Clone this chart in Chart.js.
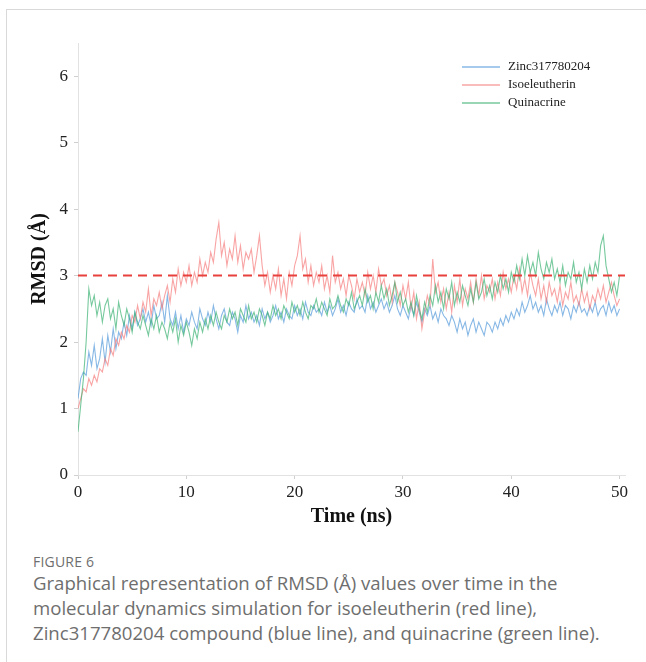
<!DOCTYPE html>
<html>
<head>
<meta charset="utf-8">
<script src="https://cdn.jsdelivr.net/npm/chart.js@4/dist/chart.umd.min.js"></script>
<style>
  html, body { margin: 0; padding: 0; background: #fff; }
  #page { position: relative; width: 646px; height: 662px; overflow: hidden; }
  #card { position: absolute; left: 6px; top: 9px; right: 0; bottom: 0;
          border-top: 1px solid #d9d9d9; border-left: 1px solid #d9d9d9; }
  #chart { position: absolute; left: 0; top: 0; }
  .cap { position: absolute; left: 33px; width: 610px; white-space: nowrap;
         font-family: "Open Sans", sans-serif; color: #6e6e6e; }
  #fig { top: 554px; font-size: 14px; line-height: 16px; letter-spacing: 0.2px; }
  #txt { top: 570px; font-size: 18.6px; line-height: 25px; }
</style>
</head>
<body>
<div id="page">
  <div id="card"></div>
  <canvas id="chart" width="646" height="540"></canvas>
  <div id="fig" class="cap">FIGURE 6</div>
  <div id="txt" class="cap">Graphical representation of RMSD (Å) values over time in the<br>molecular dynamics simulation for isoeleutherin (red line),<br>Zinc317780204 compound (blue line), and quinacrine (green line).</div>
</div>
<script>
  // sampled every 0.25 ns, 0 .. 50 ns
  let timeStepNs = 0.25;
  let seriesNames = ['Zinc317780204', 'Isoeleutherin', 'Quinacrine'];
  let thresholdRmsd = 3;
  let xTicks = [0, 10, 20, 30, 40, 50];
  let yTicks = [0, 1, 2, 3, 4, 5, 6];

  let zincRmsd = [
    1.15, 1.45, 1.55, 1.50, 1.85, 1.65, 1.95, 1.60, 1.75,
    2.05, 1.70, 2.10, 1.85, 2.20, 1.90, 2.15, 2.05,
    2.30, 2.10, 2.40, 2.20, 2.45, 2.25, 2.35, 2.50,
    2.30, 2.45, 2.25, 2.55, 2.35, 2.40, 2.60, 2.30,
    2.70, 2.35, 2.25, 2.45, 2.20, 2.40, 2.15, 2.35,
    2.25, 2.45, 2.30, 2.20, 2.50, 2.35, 2.25, 2.45,
    2.30, 2.55, 2.35, 2.20, 2.40, 2.50, 2.30, 2.25,
    2.45, 2.35, 2.15, 2.40, 2.30, 2.55, 2.35, 2.45,
    2.30, 2.40, 2.25, 2.50, 2.35, 2.45, 2.30, 2.40,
    2.55, 2.35, 2.45, 2.30, 2.50, 2.40, 2.35, 2.55,
    2.40, 2.50, 2.35, 2.60, 2.45, 2.40, 2.55, 2.45,
    2.50, 2.40, 2.60, 2.45, 2.55, 2.40, 2.50, 2.65,
    2.45, 2.55, 2.40, 2.60, 2.50, 2.45, 2.65, 2.50,
    2.55, 2.45, 2.70, 2.50, 2.60, 2.45, 2.55, 2.65,
    2.50, 2.60, 2.45, 2.55, 2.70, 2.50, 2.40, 2.55,
    2.45, 2.35, 2.55, 2.40, 2.60, 2.45, 2.30, 2.50,
    2.40, 2.55, 2.35, 2.45, 2.30, 2.50, 2.40, 2.35,
    2.25, 2.40, 2.30, 2.15, 2.35, 2.20, 2.30, 2.10,
    2.25, 2.35, 2.15, 2.30, 2.20, 2.10, 2.30, 2.25,
    2.15, 2.30, 2.20, 2.35, 2.25, 2.40, 2.30, 2.45,
    2.35, 2.50, 2.40, 2.60, 2.45, 2.55, 2.70, 2.50,
    2.60, 2.45, 2.55, 2.40, 2.65, 2.50, 2.40, 2.55,
    2.45, 2.60, 2.40, 2.55, 2.50, 2.35, 2.55, 2.45,
    2.60, 2.45, 2.50, 2.40, 2.55, 2.45, 2.60, 2.40,
    2.50, 2.55, 2.40, 2.60, 2.45, 2.55, 2.40, 2.50
  ];

  let isoeleutherinRmsd = [
    1.00, 1.15, 1.30, 1.25, 1.45, 1.35, 1.50, 1.40, 1.60,
    1.55, 1.75, 1.65, 1.90, 1.80, 2.05, 1.95, 2.15,
    2.05, 2.25, 2.15, 2.40, 2.30, 2.55, 2.35, 2.60,
    2.45, 2.80, 2.40, 2.65, 2.55, 2.75, 2.50, 2.70,
    2.85, 2.60, 2.95, 2.75, 3.10, 2.85, 3.05, 2.90,
    3.15, 2.85, 3.05, 2.90, 3.25, 3.00, 3.20, 3.05,
    3.35, 3.20, 3.55, 3.80, 3.30, 3.50, 3.15, 3.40,
    3.25, 3.60, 3.20, 3.45, 3.10, 3.35, 3.25, 3.40,
    3.05, 3.30, 3.60, 3.15, 2.85, 3.05, 2.75, 3.00,
    2.80, 3.10, 2.70, 2.95, 2.65, 3.05, 2.85, 3.15,
    3.30, 3.60, 3.10, 3.25, 2.90, 3.15, 2.85, 3.05,
    2.90, 3.15, 2.80, 3.00, 2.75, 3.30, 2.90, 3.05,
    2.80, 2.95, 2.70, 3.00, 2.85, 2.65, 2.95, 2.75,
    2.90, 2.70, 3.05, 2.80, 3.00, 2.75, 3.10, 2.85,
    2.95, 2.70, 2.85, 2.60, 2.90, 2.75, 2.55, 2.85,
    2.65, 2.90, 2.50, 2.75, 2.35, 2.60, 2.20, 2.45,
    2.70, 2.55, 3.25, 2.75, 2.90, 2.60, 2.80, 2.50,
    2.75, 2.45, 2.85, 2.60, 2.95, 2.55, 2.80, 2.65,
    2.90, 2.60, 2.95, 2.70, 3.00, 2.65, 2.85, 2.75,
    2.95, 2.65, 2.90, 2.70, 3.05, 2.80, 2.95, 2.75,
    3.00, 2.80, 3.10, 2.75, 2.95, 2.70, 3.05, 2.85,
    2.70, 2.95, 2.65, 2.85, 2.60, 2.90, 2.70, 2.80,
    2.60, 2.85, 2.55, 2.75, 2.65, 2.90, 2.60, 2.70,
    2.55, 2.80, 2.60, 2.75, 2.50, 2.70, 2.60, 2.80,
    2.65, 2.85, 2.60, 2.75, 2.90, 2.70, 2.55, 2.65
  ];

  let quinacrineRmsd = [
    0.65, 1.05, 1.45, 2.00, 2.80, 2.55, 2.70, 2.40, 2.60,
    2.30, 2.55, 2.65, 2.35, 2.50, 2.20, 2.60, 2.40,
    2.25, 2.50, 2.35, 2.15, 2.45, 2.30, 2.20, 2.40,
    2.25, 2.10, 2.35, 2.20, 2.40, 2.15, 2.30, 2.20,
    2.05, 2.30, 2.15, 2.35, 2.00, 2.25, 2.10, 2.30,
    2.15, 1.95, 2.20, 2.05, 2.30, 2.15, 2.35, 2.20,
    2.40, 2.25, 2.45, 2.30, 2.20, 2.40, 2.30, 2.50,
    2.35, 2.45, 2.25, 2.50, 2.40, 2.30, 2.55, 2.35,
    2.45, 2.30, 2.50, 2.40, 2.25, 2.45, 2.35, 2.55,
    2.40, 2.50, 2.35, 2.55, 2.45, 2.35, 2.60, 2.45,
    2.55, 2.40, 2.60, 2.45, 2.35, 2.55, 2.50, 2.65,
    2.45, 2.60, 2.50, 2.40, 2.65, 2.50, 2.55, 2.70,
    2.55, 2.45, 2.65, 2.55, 2.75, 2.50, 2.60, 2.70,
    2.55, 2.80, 2.60, 2.70, 2.50, 2.75, 2.60, 2.85,
    2.65, 2.80, 2.55, 2.70, 2.90, 2.60, 2.75, 2.55,
    2.65, 2.45, 2.60, 2.40, 2.70, 2.50, 2.35, 2.60,
    2.45, 2.70, 2.55, 2.85, 2.60, 2.75, 2.50, 2.80,
    2.65, 2.90, 2.55, 2.75, 2.60, 2.85, 2.70, 2.55,
    2.80, 2.60, 2.90, 2.65, 2.75, 2.95, 2.70, 2.85,
    2.65, 2.90, 2.75, 3.00, 2.80, 2.95, 2.75, 3.05,
    2.90, 3.15, 2.95, 3.25, 3.00, 3.30, 3.05, 3.20,
    3.00, 3.35, 3.10, 2.95, 3.20, 3.05, 3.25, 2.95,
    3.10, 2.90, 3.15, 2.85, 3.05, 2.95, 3.20, 2.90,
    3.05, 2.80, 3.10, 2.90, 3.15, 2.95, 3.20, 3.05,
    3.45, 3.60, 3.15, 2.95, 2.75, 2.90, 2.70, 3.00
  ];

  let seriesColors = ['rgba(95, 160, 220, 0.75)', 'rgba(246, 125, 125, 0.7)', 'rgba(60, 178, 115, 0.7)'];
  let serifFamily = "'Liberation Serif', 'Times New Roman', serif";

  Chart.defaults.font.family = serifFamily;

  function toPoints(values) {
    return values.map((v, i) => ({ x: i * timeStepNs, y: v }));
  }

  let seriesData = [zincRmsd, isoeleutherinRmsd, quinacrineRmsd];
  let drawOrder = [3, 2, 1];

  let datasets = seriesNames.map((name, i) => ({
    label: name,
    data: toPoints(seriesData[i]),
    borderColor: seriesColors[i],
    borderWidth: 1.1,
    pointRadius: 0,
    tension: 0,
    order: drawOrder[i]
  }));

  datasets.push({
    label: 'threshold',
    data: [{ x: 0, y: thresholdRmsd }, { x: 50.5, y: thresholdRmsd }],
    borderColor: '#e8403d',
    borderWidth: 2,
    borderDash: [9, 6],
    pointRadius: 0,
    order: 0
  });

  // legend sits inside the plot, top right
  let insideLegend = {
    id: 'insideLegend',
    afterDraw(chart) {
      let ctx = chart.ctx;
      ctx.save();
      ctx.font = '13px ' + serifFamily;
      ctx.textBaseline = 'middle';
      seriesNames.forEach((name, i) => {
        let y = 67 + i * 18;
        ctx.strokeStyle = seriesColors[i];
        ctx.lineWidth = 1.5;
        ctx.beginPath();
        ctx.moveTo(462, y);
        ctx.lineTo(500, y);
        ctx.stroke();
        ctx.fillStyle = '#222';
        ctx.fillText(name, 508, y);
      });
      ctx.restore();
    }
  };

  function keepTicks(list) {
    return (scale) => {
      scale.ticks = list.map((v) => ({ value: v }));
    };
  }

  let tickFont = { family: serifFamily, size: 17 };
  let titleFont = { family: serifFamily, size: 20, weight: 'bold' };

  new Chart(document.getElementById('chart').getContext('2d'), {
    type: 'line',
    data: { datasets: datasets },
    plugins: [insideLegend],
    options: {
      responsive: false,
      animation: false,
      layout: { padding: { top: 43, right: 21, left: 0, bottom: 0 } },
      plugins: { legend: { display: false }, tooltip: { enabled: false } },
      scales: {
        x: {
          type: 'linear',
          min: 0,
          max: 50.5,
          afterBuildTicks: keepTicks(xTicks),
          afterFit(scale) { scale.height = 65; },
          border: { color: '#e2e2e2' },
          grid: { drawOnChartArea: false, tickLength: 4, color: '#d0d0d0' },
          ticks: { font: tickFont, color: '#222', padding: 3, maxRotation: 0 },
          title: {
            display: true,
            text: 'Time (ns)',
            font: titleFont,
            color: '#111',
            padding: { top: 0, bottom: 11 }
          }
        },
        y: {
          min: 0,
          max: 6.5,
          afterBuildTicks: keepTicks(yTicks),
          afterFit(scale) { scale.width = 78; },
          border: { color: '#e2e2e2' },
          grid: { drawOnChartArea: false, tickLength: 4, color: '#d0d0d0' },
          ticks: { font: tickFont, color: '#222', padding: 6 },
          title: {
            display: true,
            text: 'RMSD (Å)',
            font: titleFont,
            color: '#111',
            padding: { top: 28, bottom: 0 }
          }
        }
      }
    }
  });
</script>
</body>
</html>
